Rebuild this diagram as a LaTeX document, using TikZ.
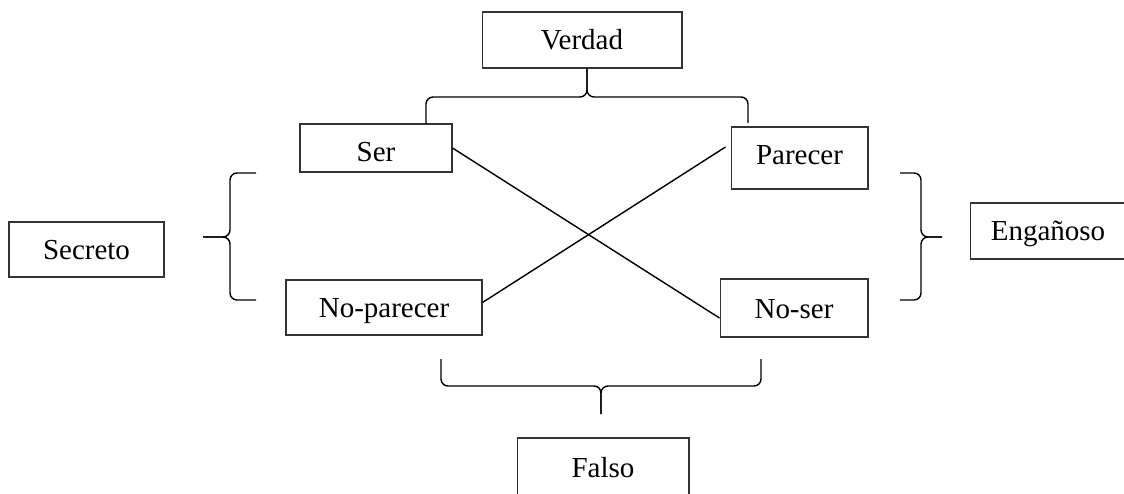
\documentclass[tikz,border=0pt]{standalone}
\usepackage{fontspec}
\setmainfont{Liberation Serif}
\usepackage{tikz}

\begin{document}
\begin{tikzpicture}[x=0.02cm,y=-0.02cm,
  box/.style={draw=black!80,line width=0.6pt,inner sep=0pt,text height=0.4cm,text depth=0pt,
    font=\fontsize{16.5}{20}\selectfont},
  link/.style={draw,line width=0.8pt},
  bracket/.style={draw,line width=0.8pt,rounded corners=4pt}]

  \useasboundingbox (0,0) rectangle (1124,493);
  \clip (0,0) rectangle (1124,493);

  \node[box,minimum width=4cm,minimum height=1.12cm] (verdad) at (582,40) {Verdad};
  \node[box,minimum width=3.04cm,minimum height=0.96cm,text height=0.56cm] (ser) at (376,148) {Ser};
  \node[box,minimum width=2.74cm,minimum height=1.24cm,text height=0.28cm] (parecer) at (799.5,158) {Parecer};
  \node[box,minimum width=3.1cm,minimum height=1.1cm] (secreto) at (86.5,249.5) {Secreto};
  \node[box,minimum width=3.92cm,minimum height=1.1cm] (noparecer) at (384,307.5) {No-parecer};
  \node[box,minimum width=2.96cm,minimum height=1.16cm] (noser) at (794,308) {No-ser};
  \node[box,minimum width=3.12cm,minimum height=1.12cm] (enganoso) at (1048,231) {Engañoso};
  \node[box,minimum width=3.44cm,minimum height=1.16cm] (falso) at (603,467) {Falso};

  % crossing lines
  \path[link] (ser.east) -- ([yshift=-0.2cm]noser.west);
  \path[link] ([xshift=-0.1cm,yshift=0.22cm]parecer.west) -- ([yshift=0.1cm]noparecer.east);

  % braces
  \coordinate (top-l) at (426,124);
  \coordinate (top-r) at (748,123);
  \coordinate (top-m) at (587,97);
  \path[bracket] (top-l) |- (top-m) -- (top-m |- verdad.south);
  \path[bracket] (top-r) |- (top-m) -- (top-m |- verdad.south);

  \coordinate (left-t) at (256,173);
  \coordinate (left-b) at (256,300);
  \coordinate (left-m) at (230,237);
  \coordinate (left-tip) at (203,237);
  \path[bracket] (left-t) -| (left-m) -- (left-tip);
  \path[bracket] (left-b) -| (left-m) -- (left-tip);

  \coordinate (right-t) at (900,173);
  \coordinate (right-b) at (900,300);
  \coordinate (right-m) at (921,237);
  \coordinate (right-tip) at (942,237);
  \path[bracket] (right-t) -| (right-m) -- (right-tip);
  \path[bracket] (right-b) -| (right-m) -- (right-tip);

  \coordinate (bot-l) at (441,359);
  \coordinate (bot-r) at (761,359);
  \coordinate (bot-m) at (601,386);
  \coordinate (bot-tip) at (601,414);
  \path[bracket] (bot-l) |- (bot-m) -- (bot-tip);
  \path[bracket] (bot-r) |- (bot-m) -- (bot-tip);

\end{tikzpicture}
\end{document}
